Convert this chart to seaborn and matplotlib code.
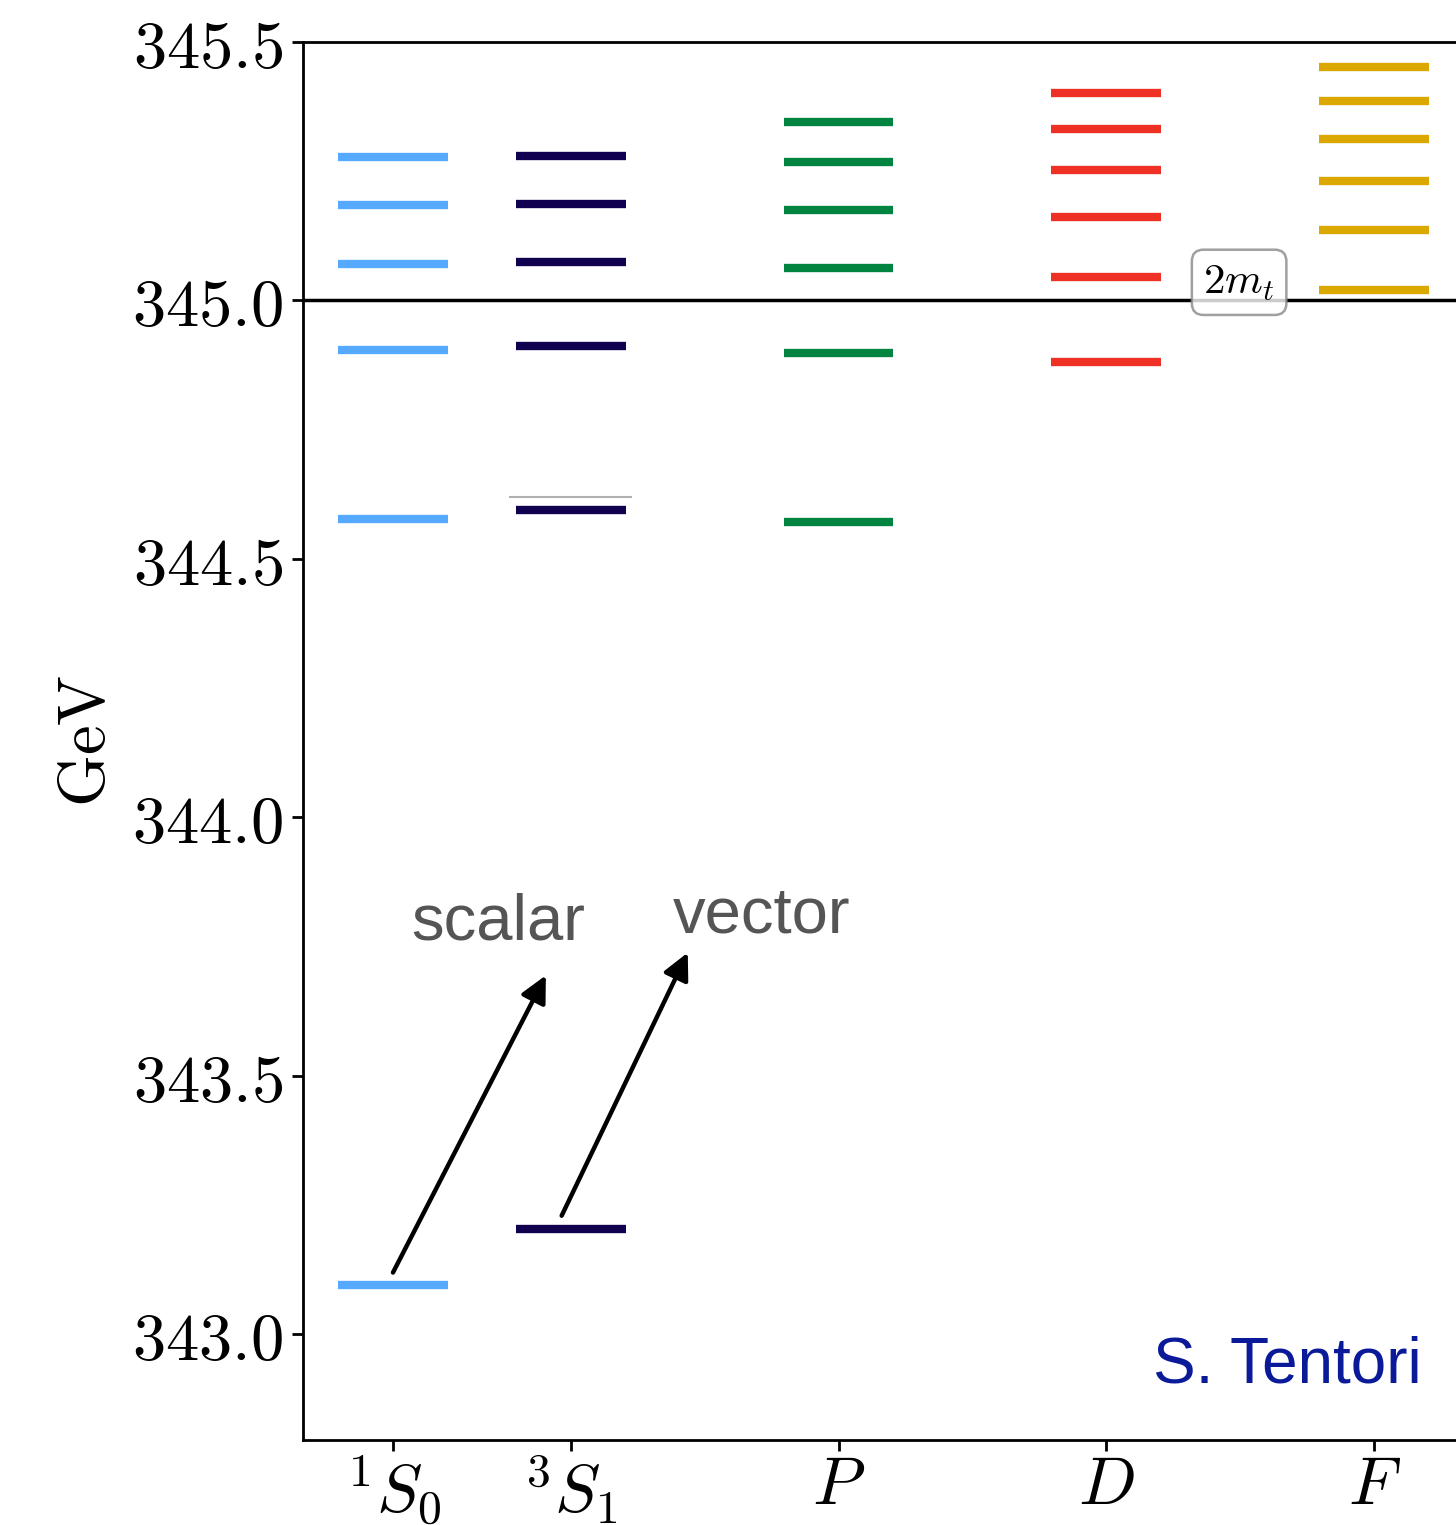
import matplotlib
matplotlib.use("Agg")
import matplotlib.pyplot as plt
import seaborn as sns
import pandas as pd

# Toponium-like level spectrum (GeV) per channel
channels = [r"$^1S_0$", r"$^3S_1$", r"$P$", r"$D$", r"$F$"]
channel_x = [0.336, 1.0, 2.0, 3.0, 4.0]
levels_1S0 = [343.094, 344.578, 344.905, 345.070, 345.184, 345.277]
levels_3S1 = [343.204, 344.594, 344.911, 345.074, 345.186, 345.279]
levels_P = [344.572, 344.899, 345.062, 345.174, 345.267, 345.346]
levels_D = [344.880, 345.045, 345.161, 345.252, 345.331, 345.402]
levels_F = [345.021, 345.137, 345.232, 345.312, 345.385, 345.451]
channel_colors = ["#55aaff", "#110050", "#00843f", "#ef3024", "#dba800"]
threshold = 345.0
yticks = [343.0, 343.5, 344.0, 344.5, 345.0, 345.5]

sns.set_theme(style="ticks")
plt.rcParams["mathtext.fontset"] = "cm"
plt.rcParams["font.family"] = ["DejaVu Sans"]
plt.rcParams["text.color"] = "black"
plt.rcParams["axes.labelcolor"] = "black"
plt.rcParams["xtick.color"] = "black"
plt.rcParams["ytick.color"] = "black"

rows = []
for name, x, lv in zip(channels, channel_x,
                       [levels_1S0, levels_3S1, levels_P, levels_D, levels_F]):
    for e in lv:
        rows.append({"channel": name, "x": x, "energy": e})
df = pd.DataFrame(rows)

fig = plt.figure(figsize=(14.56, 15.25), dpi=100)
ax = fig.add_axes([303 / 1456, 85 / 1525, 1 - 303 / 1456, (1440 - 42) / 1525])

half = 0.205
for (name, x), color in zip(zip(channels, channel_x), channel_colors):
    sub = df[df["channel"] == name]
    ax.hlines(sub["energy"], x - half, x + half, colors=color, lw=6, zorder=3)

# faint guide just above the lowest vector level
ax.hlines(344.62, 1.0 - 0.23, 1.0 + 0.23, colors="#b0b0b0", lw=1.5, zorder=2)

ax.axhline(threshold, color="black", lw=2.5, zorder=2)
ax.text(3.496, 345.035, r"$2m_t$", fontsize=31, ha="center", va="center",
        zorder=4,
        bbox=dict(boxstyle="round,pad=0.27", fc="white", ec="#888888",
                  lw=1.8, alpha=0.8))

ax.set_xlim(0, 4.306)
ax.set_ylim(342.795, 345.5)
ax.set_xticks(channel_x)
ax.set_xticklabels(channels, fontsize=49)
ax.set_yticks(yticks)
ax.set_yticklabels([rf"${v:.1f}$" for v in yticks], fontsize=48)
ax.set_ylabel(r"$\mathrm{GeV}$", fontsize=48, labelpad=10)
ax.tick_params(axis="both", direction="out", length=8, width=2, color="black")
ax.tick_params(axis="x", pad=1)
ax.tick_params(axis="y", pad=6)
for side in ["left", "bottom", "top"]:
    ax.spines[side].set_linewidth(2)
    ax.spines[side].set_color("black")
ax.spines["right"].set_visible(False)

arrow = dict(arrowstyle="-|>", lw=3.2, color="black", mutation_scale=40,
             shrinkA=0, shrinkB=0)
ax.annotate("", xy=(0.907, 343.694), xytext=(0.336, 343.119),
            arrowprops=arrow, zorder=5)
ax.annotate("", xy=(1.437, 343.738), xytext=(0.966, 343.229),
            arrowprops=arrow, zorder=5)
ax.text(0.728, 343.796, "scalar", fontsize=47, color="#555555",
        family="Liberation Sans", ha="center", va="center")
ax.text(1.713, 343.810, "vector", fontsize=47, color="#555555",
        family="Liberation Sans", ha="center", va="center")
ax.text(3.675, 342.94, "S. Tentori", fontsize=46, color="#0a1a99",
        family="Liberation Sans", ha="center", va="center")

fig.savefig("out.png", dpi=100, facecolor="white")
